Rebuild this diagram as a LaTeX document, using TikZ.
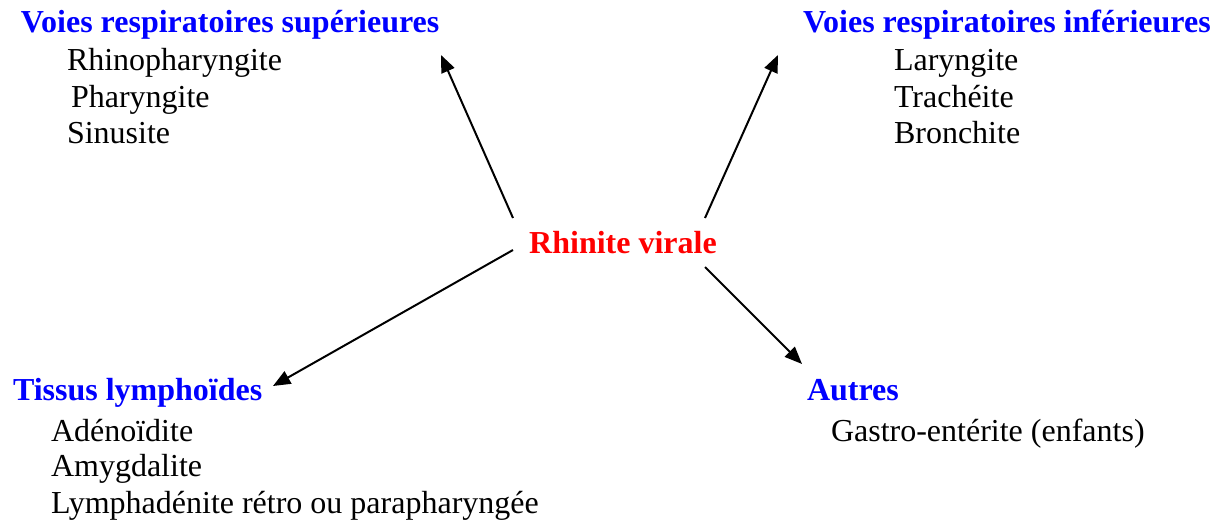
\documentclass[tikz,border=0pt]{standalone}
\usepackage{fontspec}
\setmainfont{Liberation Serif}
\usetikzlibrary{arrows.meta}
\usetikzlibrary{positioning}

\begin{document}
\begin{tikzpicture}[x=0.75pt, y=-0.75pt, ->, >={Triangle[length=13pt, width=10.5pt]}, line width=1.5pt, font=\fontsize{24}{28}\selectfont]
		\tikzstyle{head}=[anchor=base west, inner sep=0pt, text=blue, font=\fontsize{24}{28}\selectfont\bfseries]
		\tikzstyle{item}=[anchor=base west, inner sep=0pt]
		\tikzstyle{centre}=[anchor=base, inner sep=0pt, text=red, font=\fontsize{24}{28}\selectfont\bfseries]
		
		\useasboundingbox (0,0) rectangle (1222,520);
		
		\node[centre] (rv) at (623,254) {Rhinite virale};
		
		\node[head] (sup) at (20,33) {Voies respiratoires supérieures};
		\node[item] (rhino) at (66,71) {Rhinopharyngite};
		\node[item] (phar) at (70,108) {Pharyngite};
		\node[item] (sinus) at (66,144) {Sinusite};
		
		\node[head] (inf) at (802,33) {Voies respiratoires inférieures};
		\node[item] (laryn) at (893,71) {Laryngite};
		\node[item] (trach) at (893,108) {Trachéite};
		\node[item] (bronch) at (893,144) {Bronchite};
		
		\node[head] (lymph) at (12,401) {Tissus lymphoïdes};
		\node[item] (adeno) at (50,441) {Adénoïdite};
		\node[item] (amyg) at (50,477) {Amygdalite};
		\node[item] (retro) at (50,513) {Lymphadénite rétro ou parapharyngée};
		
		\node[head] (autres) at (806,401) {Autres};
		\node[item] (gastro) at (830,441) {Gastro-entérite (enfants)};
		
		\coordinate (supStart) at (513,218);
		\coordinate (supTip) at (441,55);
		\coordinate (infStart) at (705,218);
		\coordinate (infTip) at (778,55);
		\coordinate (lymphStart) at (513,250);
		\coordinate (lymphTip) at (273,386);
		\coordinate (autresStart) at (705,267);
		\coordinate (autresTip) at (802,364);
		
		\path (supStart) edge (supTip);
		\path (infStart) edge (infTip);
		\path (lymphStart) edge (lymphTip);
		\path (autresStart) edge (autresTip);
	\end{tikzpicture}
\end{document}
